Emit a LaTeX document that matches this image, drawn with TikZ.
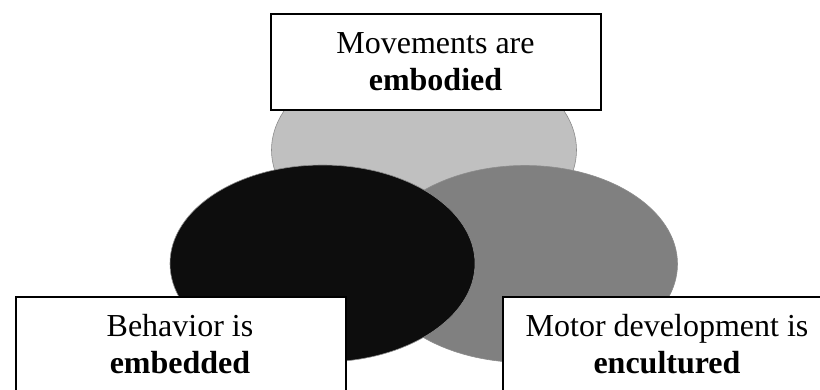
\documentclass[tikz,border=0pt]{standalone}
\usepackage{fontspec}
\setmainfont{Liberation Serif}
\usetikzlibrary{shapes.geometric}
\definecolor{lightg}{HTML}{C0C0C0}
\definecolor{midg}{HTML}{808080}
\definecolor{darkg}{HTML}{0D0D0D}
\definecolor{edgeg}{HTML}{8C8C8C}
\tikzset{
  blob/.style={ellipse, draw=edgeg, line width=0.6pt, minimum width=305pt, minimum height=197pt, inner sep=0pt},
  box/.style={rectangle, draw=black, fill=white, line width=1.5pt, minimum width=330pt, inner sep=0pt, anchor=north west},
  lbl/.style={align=center, font=\fontsize{32}{37}\selectfont, anchor=base, inner sep=0pt}
}
\begin{document}
\begin{tikzpicture}[x=1pt,y=-1pt]
\useasboundingbox (0,0) rectangle (820,389);
\clip (0,0) rectangle (820,389);
\node[blob, fill=lightg] (emb) at (424,150) {};
\node[blob, fill=midg] (enc) at (525,264) {};
\node[blob, fill=darkg] (bed) at (322.5,263.5) {};
\node[box, minimum height=96pt] (topbox) at (270,13) {};
\node[box, minimum height=120pt] (leftbox) at (15,296) {};
\node[box, minimum height=120pt] (rightbox) at (502,296) {};
\node[lbl] (toptxt) at (435.5,90) {Movements are\\\textbf{embodied}};
\node[lbl] (lefttxt) at (180,373) {Behavior is\\\textbf{embedded}};
\node[lbl] (righttxt) at (667,373) {Motor development is\\\textbf{encultured}};
\end{tikzpicture}
\end{document}
